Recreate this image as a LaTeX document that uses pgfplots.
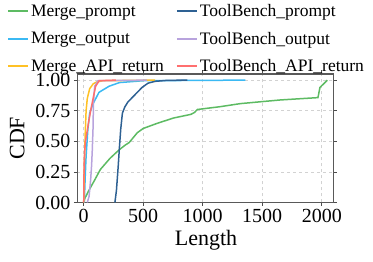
\documentclass[border=0pt]{standalone}
\usepackage{fontspec}
\setmainfont{Liberation Serif}
\usepackage{pgfplots}
\pgfplotsset{compat=1.18}
\definecolor{cgreen}{HTML}{5DBB63}
\definecolor{clblue}{HTML}{3BB9F3}
\definecolor{cyellow}{HTML}{FFC125}
\definecolor{cdblue}{HTML}{2E6193}
\definecolor{cpurple}{HTML}{B8A3DD}
\definecolor{cred}{HTML}{FF6F6F}
\begin{document}
\begin{tikzpicture}
\useasboundingbox (-77.3pt,-59.5pt) rectangle (295.7pt,202.5pt);
\begin{axis}[
  at={(0,0)}, anchor=south west, scale only axis,
  width=256pt, height=128.5pt,
  xmin=-54, xmax=2097, ymin=0, ymax=1.05,
  xtick={0,500,1000,1500,2000},
  ytick={0,0.25,0.5,0.75,1},
  /pgf/number format/assume math mode=true,
  yticklabel style={/pgf/number format/.cd, fixed, fixed zerofill, precision=2},
  xticklabel style={/pgf/number format/.cd, fixed, 1000 sep={}},
  ticklabel style={font=\fontsize{20}{22}\selectfont},
  tick align=outside, major tick length=3.5pt,
  tick style={black!70, line width=0.8pt},
  axis line style={black!65, line width=1.2pt},
  grid=major, grid style={dashed, gray!35, line width=0.6pt},
  xlabel={Length}, ylabel={CDF},
  every axis x label/.style={at={(axis description cs:0.503,-0.296)}, anchor=center, font=\fontsize{22}{24}\selectfont},
  every axis y label/.style={at={(axis description cs:-0.235,0.5)}, anchor=center, rotate=90, font=\fontsize{22}{24}\selectfont},
  legend style={at={(axis description cs:-0.275,1.56)}, anchor=north west, draw=none, fill=none,
    font=\fontsize{17.5}{20}\selectfont, row sep=10pt, inner sep=0pt,
    /tikz/every even column/.append style={column sep=10pt}},
  legend columns=2, legend cell align=left,
  legend image code/.code={\draw[#1, line width=2pt] (0pt,0pt) -- (20pt,0pt);},
  every axis plot/.append style={line width=1.5pt},
]
\addlegendimage{cgreen}\addlegendentry{Merge\_prompt}
\addlegendimage{cdblue}\addlegendentry{ToolBench\_prompt}
\addlegendimage{clblue}\addlegendentry{Merge\_output}
\addlegendimage{cpurple}\addlegendentry{ToolBench\_output}
\addlegendimage{cyellow}\addlegendentry{Merge\_API\_return}
\addlegendimage{cred}\addlegendentry{ToolBench\_API\_return}

\addplot[cgreen, forget plot] coordinates {(5,0.02) (10,0.035) (44,0.10) (90,0.18) (140,0.27) (220,0.36) (297,0.43) (350,0.47) (382,0.49) (450,0.57) (500,0.605) (612,0.645) (753,0.69) (900,0.72) (930,0.735) (955,0.76) (1147,0.783) (1316,0.808) (1653,0.838) (1968,0.857) (1985,0.94) (2047,1.0)};
\addplot[clblue, forget plot] coordinates {(5,0) (12,0.2) (20,0.38) (35,0.6) (50,0.73) (75,0.8) (128,0.9) (213,0.95) (300,0.98) (500,0.995) (1358,1.0)};
\addplot[cyellow, forget plot] coordinates {(0,0) (5,0.3) (12,0.55) (20,0.75) (30,0.85) (50,0.93) (80,0.97) (110,0.985) (160,0.995) (600,1.0)};
\addplot[cdblue, forget plot] coordinates {(262,0) (275,0.1) (290,0.3) (300,0.45) (311,0.6) (325,0.73) (345,0.78) (370,0.82) (400,0.85) (440,0.89) (490,0.94) (540,0.975) (600,0.99) (700,0.998) (870,1.0)};
\addplot[cpurple, forget plot] coordinates {(30,0) (45,0.05) (58,0.185) (66,0.3) (72,0.43) (78,0.6) (82,0.82) (92,0.95) (120,0.995) (530,1.0)};
\addplot[cred, forget plot] coordinates {(0,0) (3,0.3) (8,0.42) (15,0.5) (40,0.65) (60,0.76) (85,0.88) (100,0.95) (130,0.995) (270,1.0)};
\end{axis}
\end{tikzpicture}
\end{document}
